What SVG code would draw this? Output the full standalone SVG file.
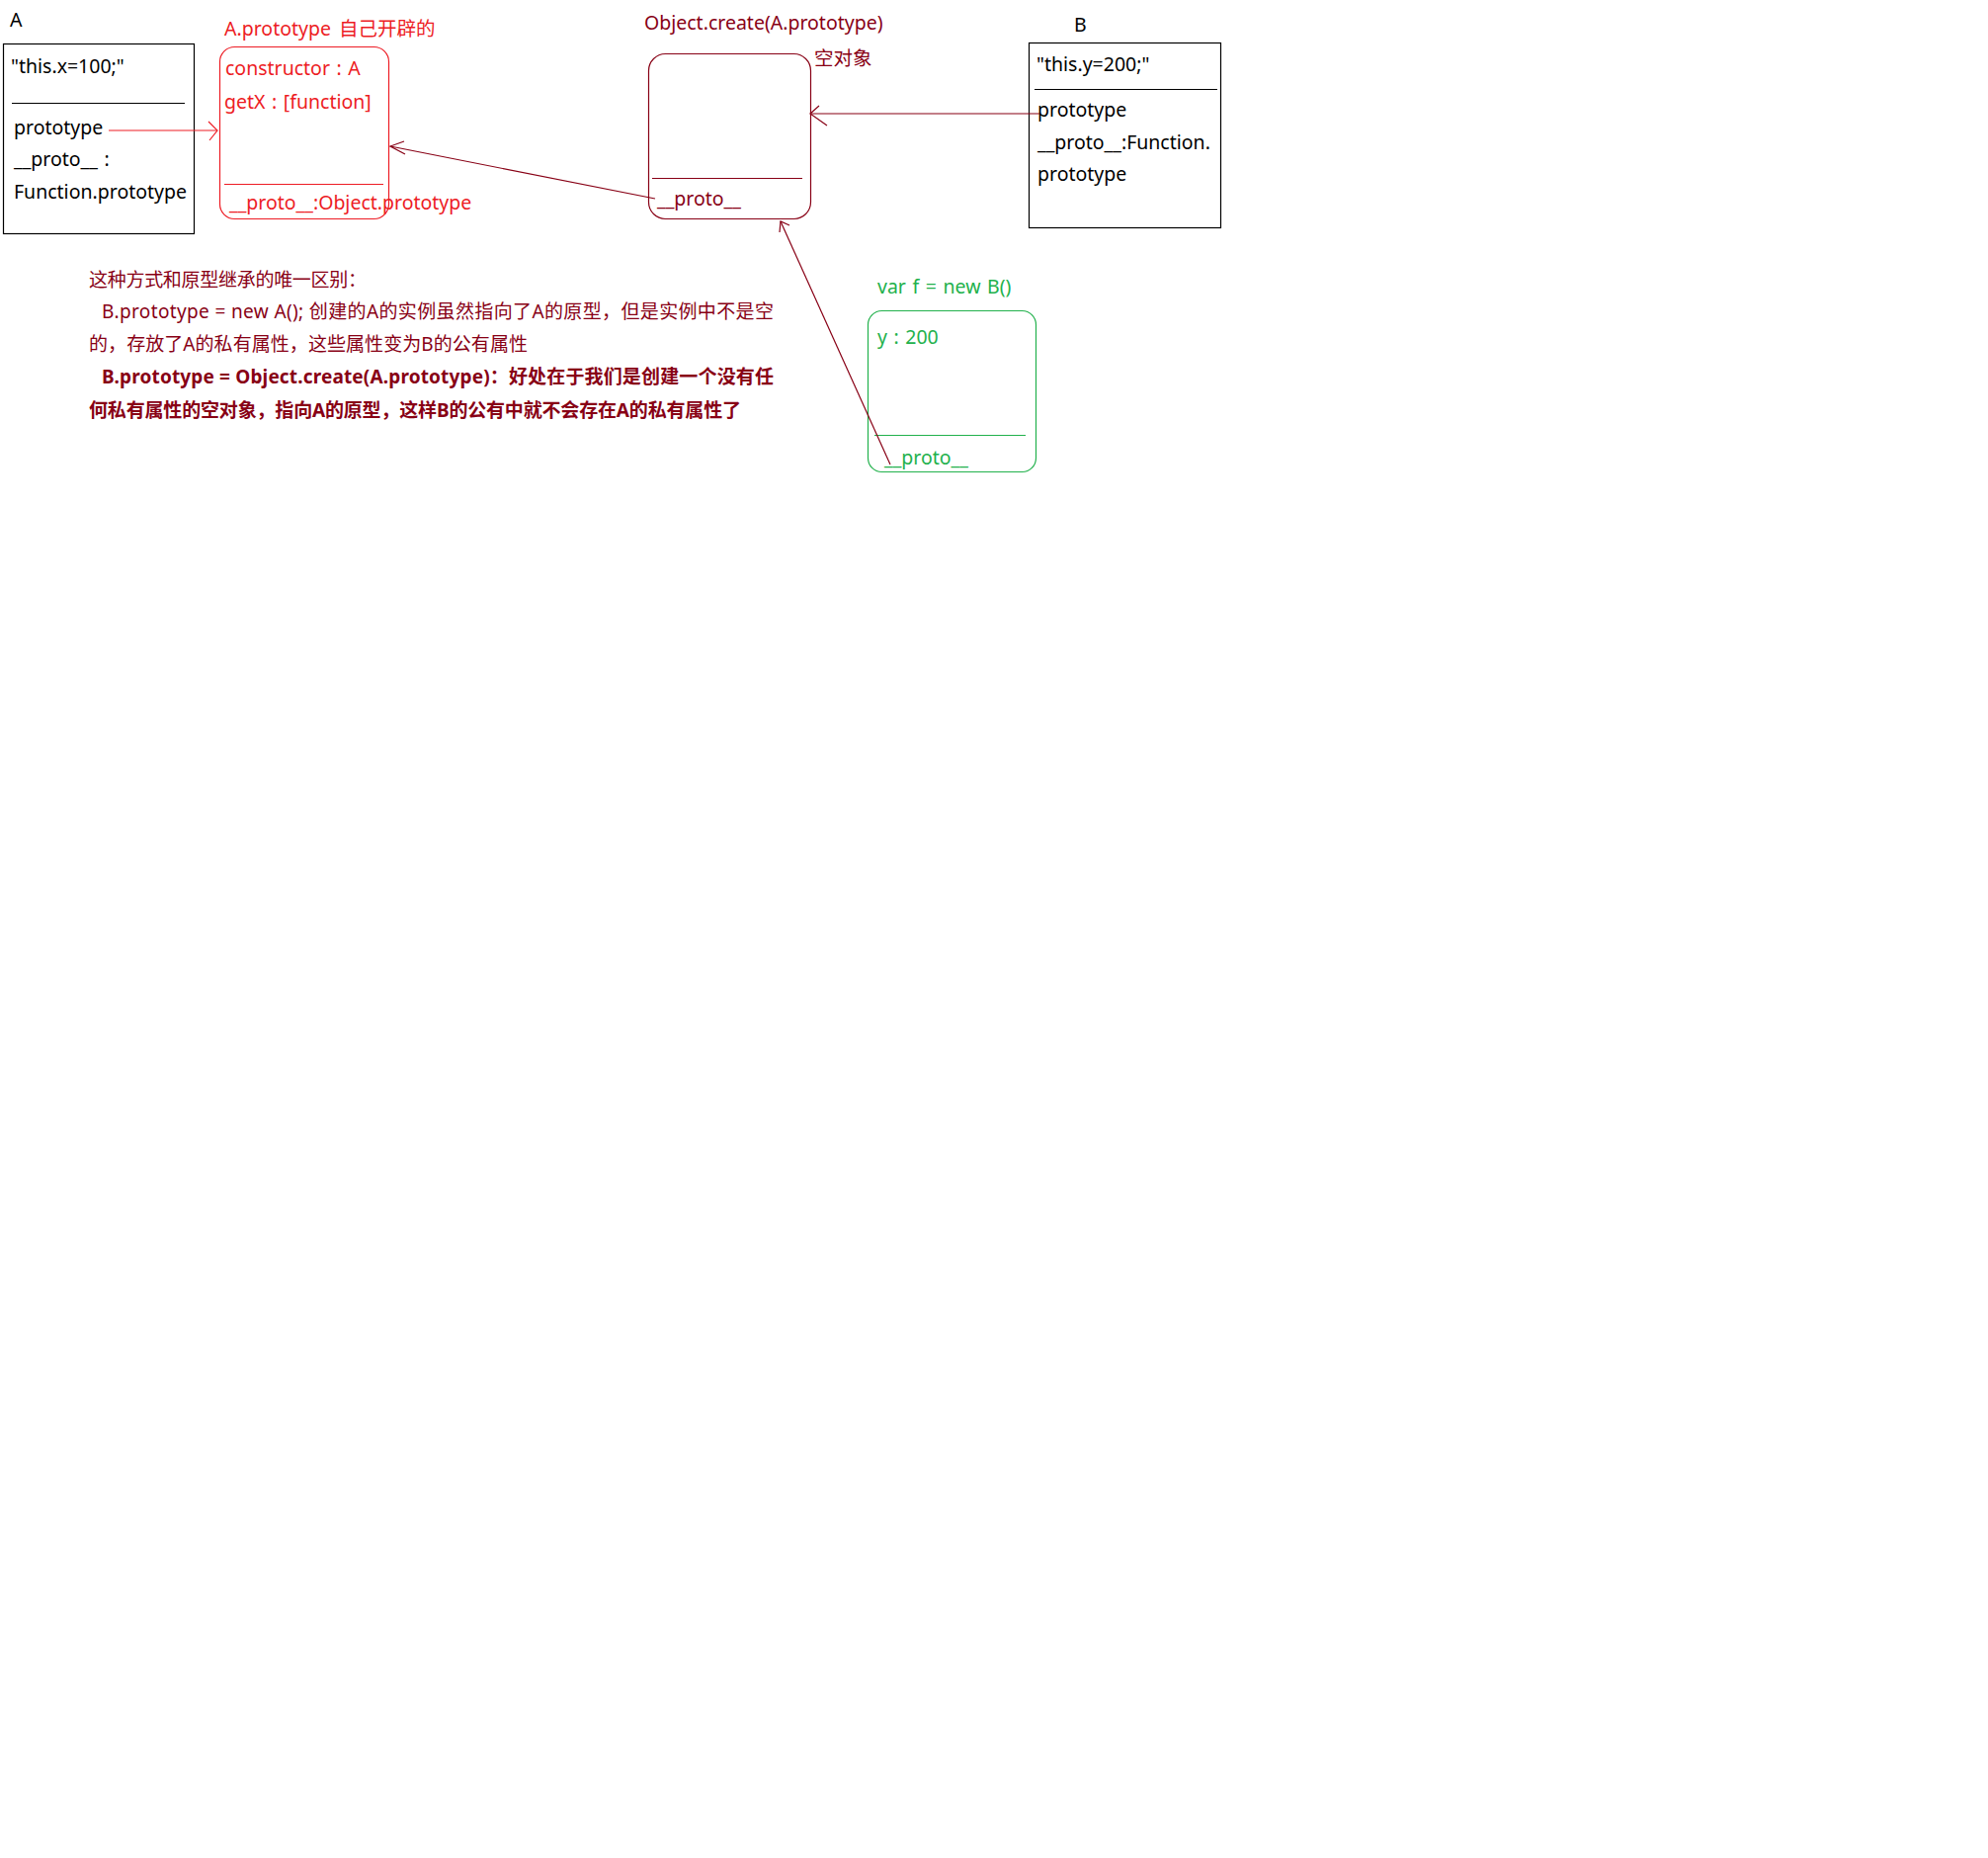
<svg xmlns="http://www.w3.org/2000/svg" width="2012" height="1880" viewBox="0 0 2012 1880">
  <style>
    text { font-family: "Noto Sans", "Noto Sans CJK SC", sans-serif; font-size: 19.5px; word-spacing: 1.5px; }
    .k { fill: #000000; }
    .r { fill: #ED1C24; }
    .d { fill: #880015; }
    .g { fill: #22B14C; }
    .b { font-weight: bold; }
    .note { font-size: 19px; word-spacing: 0; }
    .box { fill: none; stroke-width: 1.2; }
    .sk { stroke: #000000; }
    .sr { stroke: #ED1C24; }
    .sd { stroke: #880015; }
    .sg { stroke: #22B14C; }
    .ln { fill: none; stroke-width: 1.2; }
  </style>
  <rect x="0" y="0" width="2012" height="1880" fill="#ffffff"/>

  <!-- constructor A -->
  <g id="nodeA">
    <text class="k" x="10" y="27">A</text>
    <rect class="box sk" x="3.5" y="44.5" width="193" height="192"/>
    <text class="k" x="11" y="74">"this.x=100;"</text>
    <line class="ln sk" x1="12" y1="104.5" x2="187" y2="104.5"/>
    <text class="k" x="14" y="136">prototype</text>
    <text class="k" x="14" y="168">__proto__ :</text>
    <text class="k" x="14" y="201">Function.prototype</text>
  </g>

  <!-- A.prototype object -->
  <g id="nodeAProto">
    <text class="r" x="227" y="36">A.prototype<tspan x="343">自己开辟的</tspan></text>
    <rect class="box sr" x="222.5" y="47.5" width="171" height="174" rx="15" ry="15"/>
    <text class="r" x="228" y="76">constructor : A</text>
    <text class="r" x="227" y="110">getX : [function]</text>
    <line class="ln sr" x1="227" y1="186.5" x2="388" y2="186.5"/>
    <text class="r" x="232" y="212">__proto__:Object.prototype</text>
  </g>

  <!-- empty object from Object.create -->
  <g id="nodeCreate">
    <text class="d" x="652" y="30">Object.create(A.prototype)</text>
    <text class="d" x="824" y="66">空对象</text>
    <rect class="box sd" x="656.5" y="54.5" width="164" height="167" rx="17" ry="17"/>
    <line class="ln sd" x1="660" y1="180.5" x2="812" y2="180.5"/>
    <text class="d" x="665" y="208">__proto__</text>
  </g>

  <!-- constructor B -->
  <g id="nodeB">
    <text class="k" x="1087" y="32">B</text>
    <rect class="box sk" x="1041.5" y="43.5" width="194" height="187"/>
    <text class="k" x="1049" y="72">"this.y=200;"</text>
    <line class="ln sk" x1="1047" y1="90.5" x2="1232" y2="90.5"/>
    <text class="k" x="1050" y="118">prototype</text>
    <text class="k" x="1050" y="151">__proto__:Function.</text>
    <text class="k" x="1050" y="183">prototype</text>
  </g>

  <!-- instance f -->
  <g id="nodeF">
    <text class="g" x="888" y="297">var f = new B()</text>
    <rect class="box sg" x="878.5" y="314.5" width="170" height="163" rx="14" ry="14"/>
    <text class="g" x="888" y="348">y : 200</text>
    <line class="ln sg" x1="885" y1="440.5" x2="1038" y2="440.5"/>
    <text class="g" x="895" y="470">__proto__</text>
  </g>

  <!-- explanation -->
  <g id="note">
    <text class="d note" x="90" y="290" textLength="281">这种方式和原型继承的唯一区别：</text>
    <text class="d note" x="103" y="322" textLength="680">B.prototype = new A();  创建的A的实例虽然指向了A的原型，但是实例中不是空</text>
    <text class="d note" x="90" y="355" textLength="444">的，存放了A的私有属性，这些属性变为B的公有属性</text>
    <text class="d note b" x="103" y="388" textLength="680">B.prototype = Object.create(A.prototype)：好处在于我们是创建一个没有任</text>
    <text class="d note b" x="90" y="422" textLength="660">何私有属性的空对象，指向A的原型，这样B的公有中就不会存在A的私有属性了</text>
  </g>

  <!-- connectors -->
  <g id="connectors">
    <line class="ln sr" x1="110" y1="132" x2="220" y2="132"/>
    <polyline class="ln sr" points="211,123 220,132 212,142"/>

    <line class="ln sd" x1="663" y1="201" x2="395" y2="148"/>
    <polyline class="ln sd" points="409,143 395,148 410,156"/>

    <line class="ln sd" x1="1052" y1="115" x2="820" y2="115"/>
    <polyline class="ln sd" points="829,107 820,115 837,127"/>

    <line class="ln sd" x1="901" y1="470" x2="790" y2="224"/>
    <polyline class="ln sd" points="789,235 790,224 799,228"/>
  </g>
</svg>
